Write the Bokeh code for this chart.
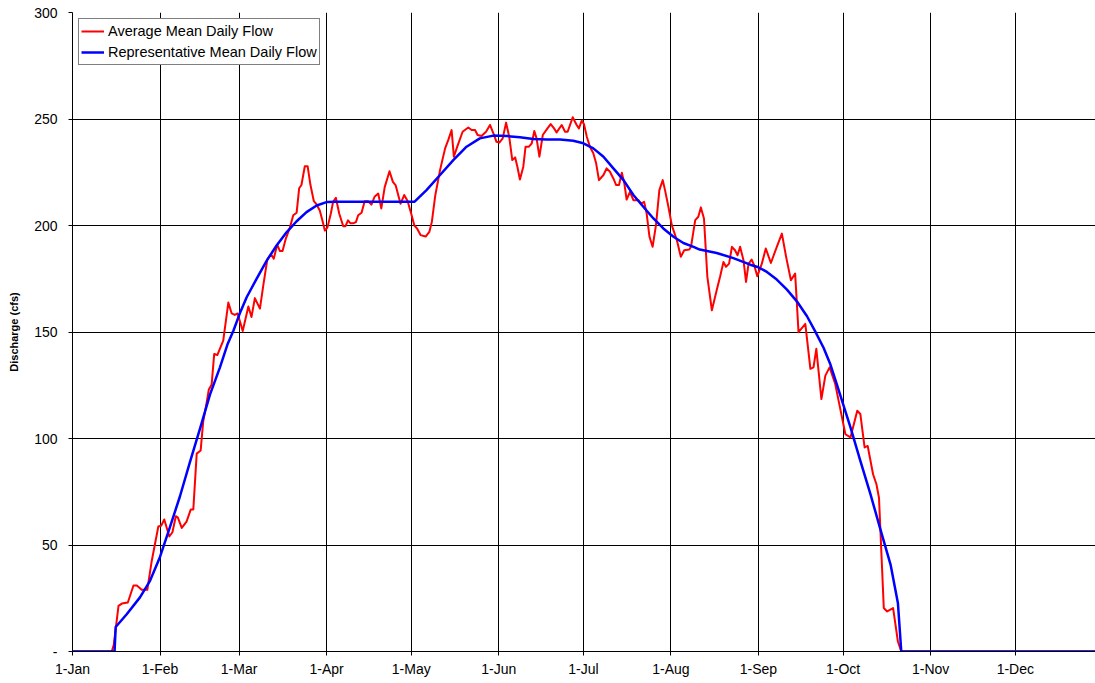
from bokeh.plotting import figure
from bokeh.models import Range1d, FixedTicker, Legend, LegendItem
from bokeh.embed import file_html
from bokeh.resources import INLINE

month_days = [0, 31, 59, 90, 120, 151, 181, 212, 243, 273, 304, 334]
month_labels = ["1-Jan", "1-Feb", "1-Mar", "1-Apr", "1-May", "1-Jun",
                "1-Jul", "1-Aug", "1-Sep", "1-Oct", "1-Nov", "1-Dec"]
y_ticks = [0, 50, 100, 150, 200, 250, 300]
y_labels = ["-", "50", "100", "150", "200", "250", "300"]

red_day = [
    0, 13.9, 14.6, 16.3, 17.5, 19.6, 21.6, 22.8, 24.5, 26.5,
    28.0, 30.4, 31.4, 32.5, 34.3, 35.4, 36.6, 37.3, 38.7, 40.4,
    41.9, 42.8, 44.0, 45.4, 46.3, 47.5, 48.3, 49.3, 50.2, 51.3,
    53.4, 55.2, 56.4, 57.5, 58.5, 60.3, 62.3, 63.4, 64.6, 66.4,
    67.6, 69.0, 70.3, 71.3, 72.5, 73.5, 74.4, 75.6, 77.0, 78.2,
    79.4, 80.3, 81.1, 82.3, 83.3, 84.3, 85.5, 86.4, 87.6, 88.6,
    89.4, 90.3, 91.5, 92.3, 93.3, 94.5, 95.9, 96.7, 97.6, 98.5,
    99.4, 100.4, 101.2, 102.4, 103.5, 104.7, 105.9, 107.0, 108.3, 109.4,
    110.6, 112.3, 113.5, 114.5, 116.2, 117.5, 118.7, 120.0, 121.1, 122.1,
    123.3, 125.1, 126.4, 127.3, 128.5, 130.2, 132.0, 133.1, 134.3, 135.1,
    136.3, 138.2, 140.2, 141.4, 142.6, 143.5, 144.9, 146.5, 147.9, 149.1,
    150.2, 151.2, 152.4, 153.6, 154.7, 155.8, 156.8, 157.6, 158.5, 159.7,
    160.5, 161.7, 162.7, 163.6, 164.4, 165.4, 166.6, 168.0, 169.4, 170.6,
    171.5, 173.3, 174.5, 175.4, 177.2, 178.6, 179.4, 180.4, 181.2, 182.2,
    183.3, 184.5, 185.5, 186.5, 188.1, 189.2, 190.4, 191.6, 192.6, 193.6,
    194.6, 195.5, 196.3, 197.5, 198.7, 200.5, 201.4, 202.5, 203.4, 204.4,
    205.5, 206.7, 207.9, 209.1, 209.9, 211.1, 212.3, 213.1, 214.1, 215.5,
    216.7, 218.5, 219.1, 220.6, 221.7, 222.6, 223.7, 224.9, 226.5, 228.2,
    229.4, 230.6, 231.5, 232.6, 233.6, 234.7, 235.6, 236.5, 237.7, 238.6,
    239.5, 240.6, 241.6, 242.6, 244.2, 245.6, 247.4, 249.5, 251.3, 252.8,
    254.5, 256.0, 257.2, 259.6, 261.4, 262.5, 263.5, 265.3, 266.7, 268.2,
    270.2, 272.0, 273.8, 275.6, 278.0, 279.1, 280.6, 281.7, 283.6, 284.8,
    285.7, 287.4, 288.6, 290.7, 292.4, 293.6, 365,
]
red_flow = [
    0, 0, 3, 21.4, 22.5, 23, 31, 31, 29, 29,
    42, 58.7, 59, 62, 54, 56, 63.5, 63, 58, 61,
    66.7, 66.7, 92.9, 94.4, 108, 116.7, 123, 125.4, 139.7, 139.2,
    146, 163.8, 158.7, 158, 158.7, 150.5, 162, 157, 165.9, 161,
    172, 184, 186.5, 184.4, 191, 188, 188, 194, 199, 204.8,
    206, 217.5, 219, 227.8, 227.8, 219, 211.4, 210, 207, 202,
    197.6, 199, 205.5, 211, 213, 205.5, 199.7, 199.7, 202.4, 201,
    201, 201.6, 204.8, 206, 211.4, 211.4, 209.8, 213.5, 215, 208,
    218, 225.5, 220.5, 218.8, 210.2, 214.3, 211.5, 205.5, 200, 198.5,
    195.5, 194.8, 197, 201.7, 214, 226, 236.2, 240.1, 244.8, 232.3,
    237, 244, 246, 244.8, 244.8, 242.5, 242, 244, 247.2, 243.3,
    239.3, 238.9, 240.9, 248.3, 241.7, 230.7, 232, 227.6, 221.6, 227.6,
    237, 237, 238.6, 244.4, 240.9, 232.3, 242.5, 245.1, 247.6, 245.6,
    243.7, 247.2, 244, 244, 250.8, 247.2, 245.6, 249.2, 247.6, 241.7,
    237, 233.9, 229.2, 221.3, 223.7, 226.8, 225.2, 222.1, 219, 219,
    224.8, 219.7, 212.2, 215.8, 211.9, 211.9, 210.3, 211.1, 205.6, 194.7,
    190, 200.2, 216.6, 221.3, 216.6, 208.8, 200.2, 197, 193.1, 185.3,
    188.4, 188.7, 190, 202.5, 204.1, 208.5, 203.3, 175.9, 160.2, 169.6,
    175.9, 182.9, 180.6, 182.1, 190, 188.4, 186, 190, 183.7, 173.5,
    182.1, 184, 180.9, 176.2, 182.1, 189.2, 182.4, 190, 196.2, 185.3,
    174.3, 177.4, 149.9, 153.8, 132.7, 133.4, 142.1, 118.5, 129.5, 133.4,
    125.6, 113.8, 102, 100.5, 113, 111.5, 95.8, 96.5, 83.2, 78.5,
    72.2, 20.4, 18.8, 20.4, 4.7, 0, 0,
]

blue_day = [
    0, 14.9, 15.3, 19.2, 23.9, 27.5, 31.0, 34.6, 38.1, 41.6,
    45.2, 48.7, 52.2, 55.0, 57.0, 59.4, 61.7, 65.2, 68.8, 72.3,
    75.9, 79.4, 82.9, 86.5, 90.0, 93.5, 121.2, 125.4, 130.2, 134.9,
    139.6, 144.3, 149.1, 153.8, 158.5, 163.2, 168.0, 172.7, 177.4, 181.0,
    184.5, 188.1, 191.6, 195.2, 198.7, 202.2, 205.8, 209.3, 212.9, 216.4,
    220.0, 222.2, 228.2, 234.1, 240.1, 243.0, 246.0, 249.5, 253.1, 256.6,
    260.2, 263.1, 266.1, 268.5, 270.8, 275.6, 279.1, 282.7, 286.2, 289.8,
    292.4, 293.6, 365,
]
blue_flow = [
    0, 0, 11.5, 17.5, 25.4, 33.3, 44.4, 58.7, 73, 88.9,
    104.8, 120.6, 133.3, 144.5, 150.6, 159.2, 166.3, 174.9, 183.5, 190.6,
    196.9, 202, 206.3, 209.4, 211, 211.2, 211.2, 216.6, 223.7, 230.7,
    237, 240.9, 242.2, 242, 241.4, 240.6, 240.4, 240.4, 239.8, 238.6,
    236.2, 232.3, 226.8, 221.3, 214.3, 208.8, 203.3, 198.6, 194.7, 191.8,
    190, 188.7, 187.1, 184.7, 181.6, 180.4, 178.2, 174.6, 169.9, 164.4,
    157.4, 150.3, 142.5, 134.7, 125.3, 105.2, 89.5, 73.8, 57.3, 40.8,
    22.8, 0, 0,
]

series_names = ["Average Mean Daily Flow", "Representative Mean Daily Flow"]

FONT = "Liberation Sans"

p = figure(width=1095, height=683,
           x_range=Range1d(0, 362.4), y_range=Range1d(0, 300),
           output_backend="svg", toolbar_location=None,
           min_border_left=72, min_border_right=0,
           min_border_top=12, min_border_bottom=32)
p.outline_line_color = None
p.background_fill_color = "white"
p.border_fill_color = "white"

r_red = p.line(red_day, red_flow, line_color="#FF0000", line_width=2, line_join="round")
r_blue = p.line(blue_day, blue_flow, line_color="#0000FF", line_width=2.5, line_join="round")

# axes
p.xaxis.ticker = FixedTicker(ticks=month_days)
p.xaxis.major_label_overrides = {d: l for d, l in zip(month_days, month_labels)}
p.yaxis.ticker = FixedTicker(ticks=y_ticks)
p.yaxis.major_label_overrides = {t: l for t, l in zip(y_ticks, y_labels)}

for ax in (p.xaxis[0], p.yaxis[0]):
    ax.axis_line_color = "black"
    ax.axis_line_width = 1
    ax.major_tick_line_color = "black"
    ax.major_tick_out = 4
    ax.major_tick_in = 0
    ax.minor_tick_line_color = None
    ax.major_label_text_font = FONT
    ax.major_label_text_font_size = "14px"
    ax.major_label_text_color = "black"

p.xaxis.major_label_standoff = 5
p.yaxis.major_label_standoff = 11
p.yaxis.axis_label = "Discharge (cfs)"
p.yaxis.axis_label_text_font = FONT
p.yaxis.axis_label_text_font_size = "11px"
p.yaxis.axis_label_text_font_style = "bold"
p.yaxis.axis_label_text_color = "black"
p.yaxis.axis_label_standoff = 11

p.xgrid.grid_line_color = "black"
p.ygrid.grid_line_color = "black"
p.xgrid.grid_line_width = 1
p.ygrid.grid_line_width = 1

legend = Legend(items=[LegendItem(label=series_names[0], renderers=[r_red]),
                       LegendItem(label=series_names[1], renderers=[r_blue])],
                location="top_left")
legend.margin = 6
legend.padding = 2
legend.spacing = 1
legend.glyph_width = 23
legend.glyph_height = 20
legend.label_height = 20
legend.label_standoff = 4
legend.label_text_font = FONT
legend.label_text_font_size = "14.5px"
legend.label_text_color = "black"
legend.border_line_color = "black"
legend.border_line_width = 1
legend.background_fill_color = "white"
legend.background_fill_alpha = 1
p.add_layout(legend)

open("out.html", "w").write(file_html(p, INLINE))
